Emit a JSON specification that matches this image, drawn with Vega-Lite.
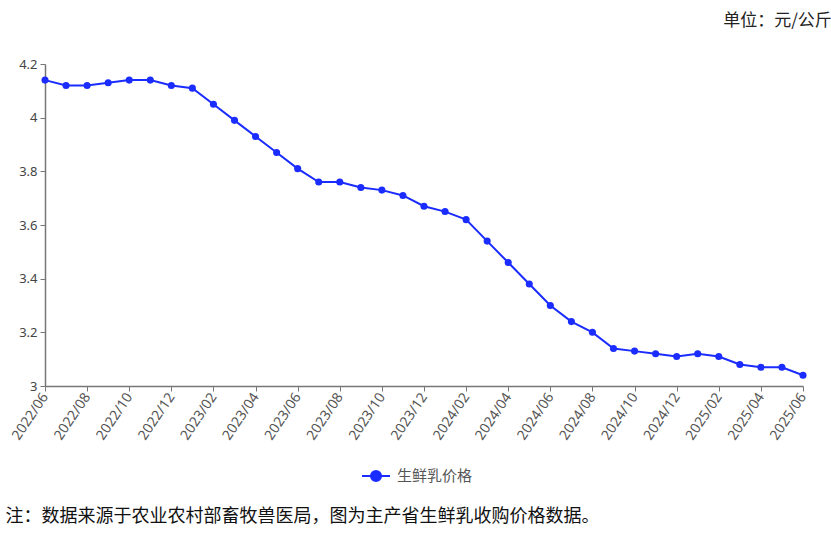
{
  "$schema": "https://vega.github.io/schema/vega-lite/v6.json",
  "width": 758,
  "height": 322,
  "autosize": "none",
  "padding": {"left": 45, "top": 64, "right": 28, "bottom": 147},
  "background": "white",
  "title": {
    "text": "单位：元/公斤",
    "anchor": "end",
    "orient": "top",
    "offset": 28,
    "dx": 23,
    "fontSize": 17,
    "fontWeight": "normal",
    "font": "Noto Sans CJK SC",
    "color": "#222222"
  },
  "data": {
    "values": [
      {"month": "2022/06", "price": 4.14},
      {"month": "2022/07", "price": 4.12},
      {"month": "2022/08", "price": 4.12},
      {"month": "2022/09", "price": 4.13},
      {"month": "2022/10", "price": 4.14},
      {"month": "2022/11", "price": 4.14},
      {"month": "2022/12", "price": 4.12},
      {"month": "2023/01", "price": 4.11},
      {"month": "2023/02", "price": 4.05},
      {"month": "2023/03", "price": 3.99},
      {"month": "2023/04", "price": 3.93},
      {"month": "2023/05", "price": 3.87},
      {"month": "2023/06", "price": 3.81},
      {"month": "2023/07", "price": 3.76},
      {"month": "2023/08", "price": 3.76},
      {"month": "2023/09", "price": 3.74},
      {"month": "2023/10", "price": 3.73},
      {"month": "2023/11", "price": 3.71},
      {"month": "2023/12", "price": 3.67},
      {"month": "2024/01", "price": 3.65},
      {"month": "2024/02", "price": 3.62},
      {"month": "2024/03", "price": 3.54},
      {"month": "2024/04", "price": 3.46},
      {"month": "2024/05", "price": 3.38},
      {"month": "2024/06", "price": 3.30},
      {"month": "2024/07", "price": 3.24},
      {"month": "2024/08", "price": 3.20},
      {"month": "2024/09", "price": 3.14},
      {"month": "2024/10", "price": 3.13},
      {"month": "2024/11", "price": 3.12},
      {"month": "2024/12", "price": 3.11},
      {"month": "2025/01", "price": 3.12},
      {"month": "2025/02", "price": 3.11},
      {"month": "2025/03", "price": 3.08},
      {"month": "2025/04", "price": 3.07},
      {"month": "2025/05", "price": 3.07},
      {"month": "2025/06", "price": 3.04}
    ]
  },
  "mark": {
    "type": "line",
    "strokeWidth": 2,
    "color": "#5566f2",
    "point": {"filled": true, "size": 50, "color": "#1a2cff", "opacity": 1}
  },
  "encoding": {
    "x": {
      "field": "month",
      "type": "ordinal",
      "scale": {"type": "point", "padding": 0},
      "axis": {
        "values": ["2022/06","2022/08","2022/10","2022/12","2023/02","2023/04","2023/06","2023/08","2023/10","2023/12","2024/02","2024/04","2024/06","2024/08","2024/10","2024/12","2025/02","2025/04","2025/06"],
        "labelAngle": -56,
        "labelAlign": "right",
        "labelBaseline": "middle",
        "labelFontSize": 14,
        "labelColor": "#555555",
        "labelFont": "Noto Sans",
        "labelPadding": 3,
        "domainColor": "#777777",
        "domainWidth": 1.5,
        "tickColor": "#777777",
        "tickSize": 5,
        "grid": false,
        "title": "注：数据来源于农业农村部畜牧兽医局，图为主产省生鲜乳收购价格数据。",
        "titleX": -40,
        "titleY": 130,
        "titleAlign": "left",
        "titleAnchor": "start",
        "titleBaseline": "middle",
        "titleFont": "Noto Sans CJK SC",
        "titleFontSize": 18,
        "titleFontWeight": "normal",
        "titleColor": "#111111"
      }
    },
    "y": {
      "field": "price",
      "type": "quantitative",
      "scale": {"domain": [3, 4.2], "nice": false, "zero": false},
      "axis": {
        "values": [3, 3.2, 3.4, 3.6, 3.8, 4, 4.2],
        "format": "~g",
        "labelFontSize": 13,
        "labelColor": "#444444",
        "labelFont": "Noto Sans",
        "labelPadding": 3,
        "domainColor": "#777777",
        "domainWidth": 1.5,
        "tickColor": "#777777",
        "tickSize": 5,
        "grid": false,
        "title": null
      }
    },
    "color": {
      "datum": "生鲜乳价格",
      "type": "nominal",
      "scale": {"range": ["#1a2cff"]},
      "legend": {
        "orient": "none",
        "legendX": 316,
        "legendY": 397,
        "title": null,
        "symbolType": "M-1,0L1,0M-0.36,0A0.36,0.36,0,1,1,0.36,0A0.36,0.36,0,1,1,-0.36,0Z",
        "symbolSize": 784,
        "symbolFillColor": "#1a2cff",
        "symbolStrokeColor": "#5566f2",
        "symbolStrokeWidth": 2,
        "labelFontSize": 15,
        "labelColor": "#555555",
        "labelFont": "Noto Sans CJK SC",
        "labelOffset": 6
      }
    }
  },
  "config": {"view": {"stroke": null}}
}
